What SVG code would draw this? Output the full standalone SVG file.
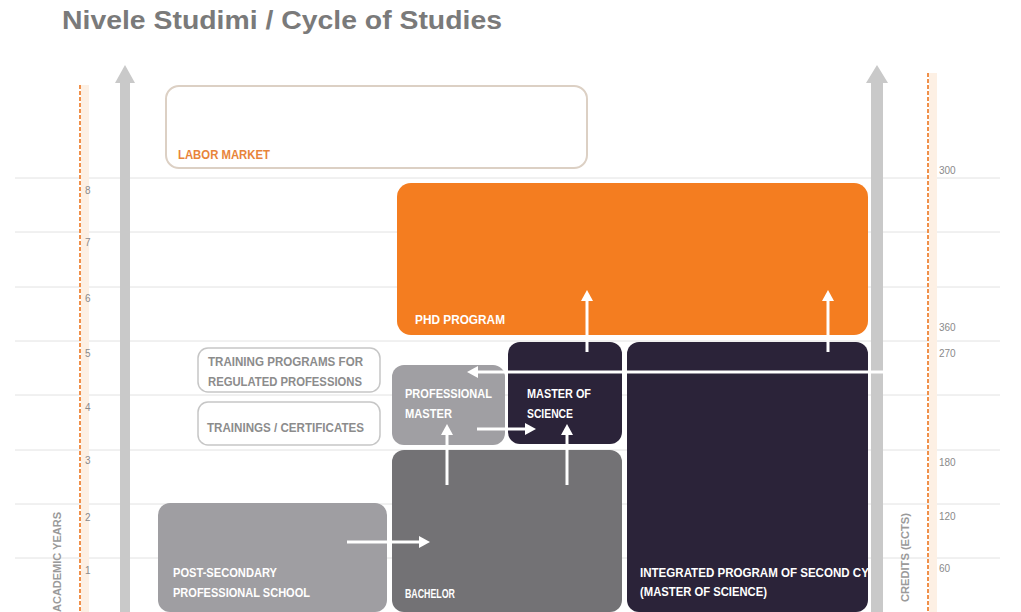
<svg xmlns="http://www.w3.org/2000/svg" width="1021" height="612" viewBox="0 0 1021 612">
<style>
.grid{stroke:#e2e2e2;stroke-width:1}
.dash{stroke:#f0904a;stroke-width:2;stroke-dasharray:4 2}
.band{fill:#fdf0e4}
.axis{fill:#c9c9c9}
.num{font-family:"Liberation Sans",Arial,sans-serif;font-size:10px;fill:#8a8a8a}
.lab{font-family:"Liberation Sans",Arial,sans-serif;font-weight:bold;font-size:13px;fill:#ffffff}
.glab{font-family:"Liberation Sans",Arial,sans-serif;font-weight:bold;font-size:12px;fill:#8c8c8c}
.ax{font-family:"Liberation Sans",Arial,sans-serif;font-weight:bold;font-size:10px;fill:#9a9a9a}
.conn{stroke:#ffffff;stroke-width:3;fill:none}
</style>
<defs>
<marker id="ah" markerUnits="userSpaceOnUse" markerWidth="11" markerHeight="12" viewBox="0 0 11 12" refX="5" refY="6" orient="auto">
<path d="M0,0 L11,6 L0,12 z" fill="#ffffff"/>
</marker>
<clipPath id="clipInt"><rect x="627" y="342" width="241" height="270" rx="12"/></clipPath>
</defs>
<rect width="1021" height="612" fill="#ffffff"/>
<text x="62" y="29" font-family="'Liberation Sans',Arial,sans-serif" font-weight="bold" font-size="25" fill="#7a7a7a" textLength="440" lengthAdjust="spacingAndGlyphs">Nivele Studimi / Cycle of Studies</text>
<g id="grid">
<line class="grid" x1="15" y1="178" x2="1000" y2="178"/>
<line class="grid" x1="15" y1="232" x2="1000" y2="232"/>
<line class="grid" x1="15" y1="287" x2="1000" y2="287"/>
<line class="grid" x1="15" y1="341" x2="1000" y2="341"/>
<line class="grid" x1="15" y1="395" x2="1000" y2="395"/>
<line class="grid" x1="15" y1="450" x2="1000" y2="450"/>
<line class="grid" x1="15" y1="504" x2="1000" y2="504"/>
<line class="grid" x1="15" y1="558" x2="1000" y2="558"/>
</g>
<g id="axes">
<rect class="band" x="81" y="85" width="8" height="527"/>
<line class="dash" x1="80" y1="85" x2="80" y2="612"/>
<rect class="band" x="929" y="73" width="8" height="539"/>
<line class="dash" x1="928" y1="73" x2="928" y2="612"/>
<path class="axis" d="M120,612 L120,83 L115,83 L125,65 L135,83 L130,83 L130,612 z"/>
<path class="axis" d="M871,612 L871,83 L866,83 L877,65 L888,83 L883,83 L883,612 z"/>
<text class="num" x="85" y="194">8</text>
<text class="num" x="85" y="246">7</text>
<text class="num" x="85" y="302">6</text>
<text class="num" x="85" y="357">5</text>
<text class="num" x="85" y="411">4</text>
<text class="num" x="85" y="464">3</text>
<text class="num" x="85" y="521">2</text>
<text class="num" x="85" y="574">1</text>
<text class="num" x="939" y="174">300</text>
<text class="num" x="939" y="331">360</text>
<text class="num" x="939" y="357">270</text>
<text class="num" x="939" y="466">180</text>
<text class="num" x="939" y="520">120</text>
<text class="num" x="939" y="572">60</text>
<text class="ax" transform="translate(61,612) rotate(-90)" textLength="100" lengthAdjust="spacingAndGlyphs">ACADEMIC YEARS</text>
<text class="ax" transform="translate(909,602) rotate(-90)" textLength="89" lengthAdjust="spacingAndGlyphs">CREDITS (ECTS)</text>
</g>
<g id="labor-market">
<rect x="166" y="86" width="421" height="82" rx="13" fill="#ffffff" stroke="#dcd0c4" stroke-width="2"/>
<text x="178" y="159" font-family="'Liberation Sans',Arial,sans-serif" font-weight="bold" font-size="13" fill="#e8843a" textLength="92" lengthAdjust="spacingAndGlyphs">LABOR MARKET</text>
</g>
<g id="phd-program">
<rect x="397" y="183" width="471" height="152" rx="14" fill="#f47d20"/>
<text class="lab" x="415" y="324" textLength="90" lengthAdjust="spacingAndGlyphs">PHD PROGRAM</text>
</g>
<g id="master-of-science">
<rect x="508" y="342" width="114" height="102" rx="12" fill="#2b2339"/>
<text class="lab" x="527" y="398" textLength="64" lengthAdjust="spacingAndGlyphs">MASTER OF</text>
<text class="lab" x="527" y="418" textLength="46" lengthAdjust="spacingAndGlyphs">SCIENCE</text>
</g>
<g id="integrated-program">
<rect x="627" y="342" width="241" height="270" rx="12" fill="#2b2339"/>
<g clip-path="url(#clipInt)">
<text class="lab" x="640" y="577" textLength="252" lengthAdjust="spacingAndGlyphs">INTEGRATED PROGRAM OF SECOND CYCLE</text>
<text class="lab" x="640" y="596" textLength="127" lengthAdjust="spacingAndGlyphs">(MASTER OF SCIENCE)</text>
</g>
</g>
<g id="professional-master">
<rect x="392" y="365" width="113" height="80" rx="12" fill="#a09fa3"/>
<text class="lab" x="405" y="398" textLength="87" lengthAdjust="spacingAndGlyphs">PROFESSIONAL</text>
<text class="lab" x="405" y="418" textLength="47" lengthAdjust="spacingAndGlyphs">MASTER</text>
</g>
<g id="bachelor">
<rect x="392" y="450" width="230" height="162" rx="12" fill="#737275"/>
<text class="lab" x="405" y="598" textLength="50" lengthAdjust="spacingAndGlyphs">BACHELOR</text>
</g>
<g id="post-secondary">
<rect x="158" y="503" width="229" height="109" rx="12" fill="#9f9ea2"/>
<text class="lab" x="173" y="577" textLength="104" lengthAdjust="spacingAndGlyphs">POST-SECONDARY</text>
<text class="lab" x="173" y="597" textLength="137" lengthAdjust="spacingAndGlyphs">PROFESSIONAL SCHOOL</text>
</g>
<g id="training-programs">
<rect x="198" y="348" width="182" height="44" rx="10" fill="#ffffff" stroke="#c6c6c6" stroke-width="1.5"/>
<text class="glab" x="208" y="366" textLength="155" lengthAdjust="spacingAndGlyphs">TRAINING PROGRAMS FOR</text>
<text class="glab" x="208" y="386" textLength="154" lengthAdjust="spacingAndGlyphs">REGULATED PROFESSIONS</text>
</g>
<g id="trainings-certificates">
<rect x="198" y="402" width="182" height="43" rx="10" fill="#ffffff" stroke="#c6c6c6" stroke-width="1.5"/>
<text class="glab" x="207" y="432" textLength="157" lengthAdjust="spacingAndGlyphs">TRAININGS / CERTIFICATES</text>
</g>
<g id="connectors">
<line class="conn" x1="347" y1="542" x2="424" y2="542" marker-end="url(#ah)"/>
<line class="conn" x1="447" y1="485" x2="447" y2="430" marker-end="url(#ah)"/>
<line class="conn" x1="567" y1="485" x2="567" y2="430" marker-end="url(#ah)"/>
<line class="conn" x1="477" y1="429" x2="530" y2="429" marker-end="url(#ah)"/>
<line class="conn" x1="587" y1="352" x2="587" y2="296" marker-end="url(#ah)"/>
<line class="conn" x1="828" y1="352" x2="828" y2="296" marker-end="url(#ah)"/>
<line class="conn" x1="885" y1="372" x2="473" y2="372" marker-end="url(#ah)"/>
</g>
</svg>
